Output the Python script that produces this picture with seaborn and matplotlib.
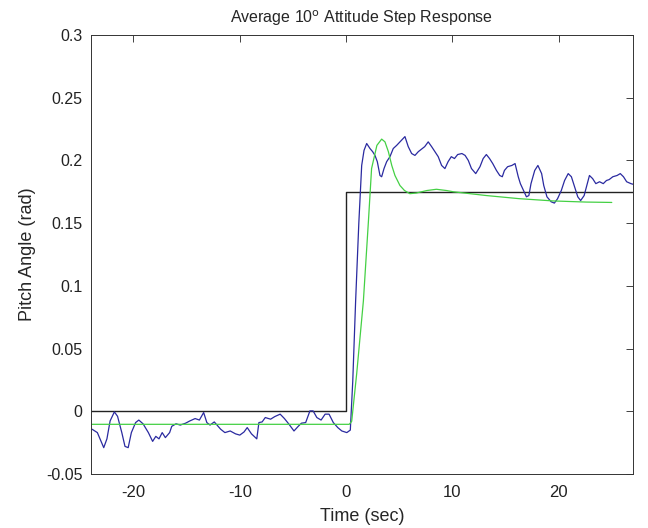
import matplotlib
matplotlib.use("Agg")
import matplotlib.pyplot as plt
import seaborn as sns
import pandas as pd

# ---- data ----
step_t = [-24, 0, 0, 27]
step_y = [0.0, 0.0, 0.1745, 0.1745]

model_t = [-24, 0.3, 0.53, 1.0, 1.63, 2.1, 2.4, 2.9, 3.35, 3.66, 3.98, 4.3, 4.6,
           5.07, 5.5, 6.0, 6.6, 7.6, 8.5, 9.45, 10.1, 13.2, 16.3, 19.5, 22.6, 25.0]
model_y = [-0.0104, -0.0104, -0.008, 0.030, 0.088, 0.151, 0.1935, 0.212, 0.217,
           0.2148, 0.207, 0.196, 0.188, 0.180, 0.176, 0.1735, 0.174, 0.176, 0.177,
           0.176, 0.175, 0.172, 0.1695, 0.1677, 0.1668, 0.1665]

meas_t = [-23.9, -23.4, -22.8, -22.5, -22.2, -21.8, -21.5, -21.1, -20.8, -20.5,
          -20.2, -19.8, -19.5, -19.1, -18.6, -18.2, -17.9, -17.6, -17.3, -17.0,
          -16.6, -16.4, -16.0, -15.6, -15.1, -14.7, -14.2, -13.8, -13.4, -13.1,
          -12.8, -12.4, -11.8, -11.4, -10.9, -10.4, -10.0, -9.6, -9.3, -8.9,
          -8.4, -8.2, -7.9, -7.6, -7.1, -6.7, -6.2, -5.8, -5.4, -4.9,
          -4.5, -4.2, -3.8, -3.4, -3.1, -2.75, -2.35, -1.97, -1.6, -1.2,
          -0.78, -0.4, 0.07, 0.4, 0.63, 0.9, 1.2, 1.47, 1.69, 1.94,
          2.25, 2.5, 2.72, 2.94, 3.19, 3.35, 3.57, 3.82, 4.13, 4.44,
          4.76, 5.07, 5.38, 5.54, 5.85, 6.17, 6.48, 6.8, 7.1, 7.4,
          7.73, 8.05, 8.36, 8.67, 8.99, 9.3, 9.6, 9.9, 10.2, 10.5,
          10.9, 11.2, 11.5, 11.8, 12.2, 12.6, 12.9, 13.2, 13.5, 13.8,
          14.15, 14.46, 14.7, 14.9, 15.2, 15.6, 15.9, 16.2, 16.4, 16.7,
          16.97, 17.2, 17.4, 17.75, 18.05, 18.4, 18.6, 18.9, 19.3, 19.6,
          19.9, 20.25, 20.56, 20.9, 21.2, 21.5, 21.8, 22.07, 22.4, 22.7,
          22.9, 23.2, 23.5, 23.85, 24.2, 24.5, 24.75, 25.1, 25.5, 25.8,
          26.1, 26.4, 26.8, 27.0]
meas_y = [-0.0143, -0.017, -0.029, -0.022, -0.0077, -0.0005, -0.004, -0.017, -0.028, -0.029,
          -0.017, -0.009, -0.007, -0.010, -0.017, -0.024, -0.020, -0.022, -0.017, -0.021,
          -0.017, -0.012, -0.010, -0.011, -0.0095, -0.0077, -0.0058, -0.007, -0.001, -0.009,
          -0.011, -0.0085, -0.0143, -0.017, -0.0157, -0.018, -0.019, -0.0165, -0.013, -0.018,
          -0.022, -0.009, -0.0085, -0.005, -0.0063, -0.0042, -0.0023, -0.0058, -0.010, -0.0157,
          -0.012, -0.0095, -0.009, 0.0003, 0.0003, -0.005, -0.007, -0.0023, -0.0023, -0.009,
          -0.013, -0.0157, -0.017, -0.015, 0.024, 0.088, 0.150, 0.196, 0.208, 0.2135,
          0.2095, 0.207, 0.204, 0.199, 0.188, 0.187, 0.1935, 0.199, 0.203, 0.2095,
          0.212, 0.2148, 0.2175, 0.219, 0.211, 0.2055, 0.204, 0.207, 0.209, 0.211,
          0.2148, 0.211, 0.207, 0.203, 0.196, 0.1935, 0.199, 0.203, 0.2015, 0.2047,
          0.2055, 0.204, 0.200, 0.1935, 0.1895, 0.195, 0.2015, 0.2047, 0.2015, 0.1975,
          0.192, 0.188, 0.187, 0.192, 0.195, 0.196, 0.1975, 0.187, 0.1815, 0.176,
          0.171, 0.172, 0.1815, 0.192, 0.196, 0.1895, 0.180, 0.171, 0.167, 0.166,
          0.1695, 0.176, 0.184, 0.1895, 0.187, 0.179, 0.171, 0.168, 0.172, 0.1815,
          0.188, 0.1855, 0.1815, 0.183, 0.1815, 0.184, 0.1847, 0.187, 0.188, 0.1895,
          0.187, 0.183, 0.1815, 0.181]

x_ticks = [-20, -10, 0, 10, 20]
y_ticks = [-0.05, 0, 0.05, 0.1, 0.15, 0.2, 0.25, 0.3]
y_tick_labels = ["-0.05", "0", "0.05", "0.1", "0.15", "0.2", "0.25", "0.3"]

# ---- plotting ----
sns.set_style("white")
plt.rcParams["font.family"] = ["Liberation Sans", "DejaVu Sans"]

fig = plt.figure(figsize=(6.48, 5.28), dpi=100)
ax = fig.add_axes([0.1404, 0.1023, 0.8365, 0.8314])

df_step = pd.DataFrame({"t": step_t, "y": step_y})
df_model = pd.DataFrame({"t": model_t, "y": model_y})
df_meas = pd.DataFrame({"t": meas_t, "y": meas_y})

sns.lineplot(data=df_step, x="t", y="y", ax=ax, color="#222222", lw=1.0,
             sort=False, estimator=None)
sns.lineplot(data=df_meas, x="t", y="y", ax=ax, color="#2a2aa0", lw=0.9,
             sort=False, estimator=None)
sns.lineplot(data=df_model, x="t", y="y", ax=ax, color="#44d044", lw=0.9,
             sort=False, estimator=None)

ax.set_xlim(-24, 27)
ax.set_ylim(-0.05, 0.3)
ax.set_xticks(x_ticks)
ax.set_xticklabels([str(v) for v in x_ticks])
ax.set_yticks(y_ticks)
ax.set_yticklabels(y_tick_labels)
ax.tick_params(direction="in", length=5, width=0.6, top=True, right=True,
               colors="#222222")
ax.tick_params(axis="x", labelsize=12, pad=8)
ax.tick_params(axis="y", labelsize=11.5, pad=6)
for s in ax.spines.values():
    s.set_visible(True)
    s.set_color("#333333")
    s.set_linewidth(0.7)

ax.set_title("Average 10$^{\\mathrm{o}}$ Attitude Step Response", fontsize=11.5, pad=9)
ax.set_xlabel("Time (sec)", fontsize=13, labelpad=6)
ax.set_ylabel("Pitch Angle (rad)", fontsize=13, labelpad=7)

fig.savefig("out.png", dpi=100, facecolor="white")
